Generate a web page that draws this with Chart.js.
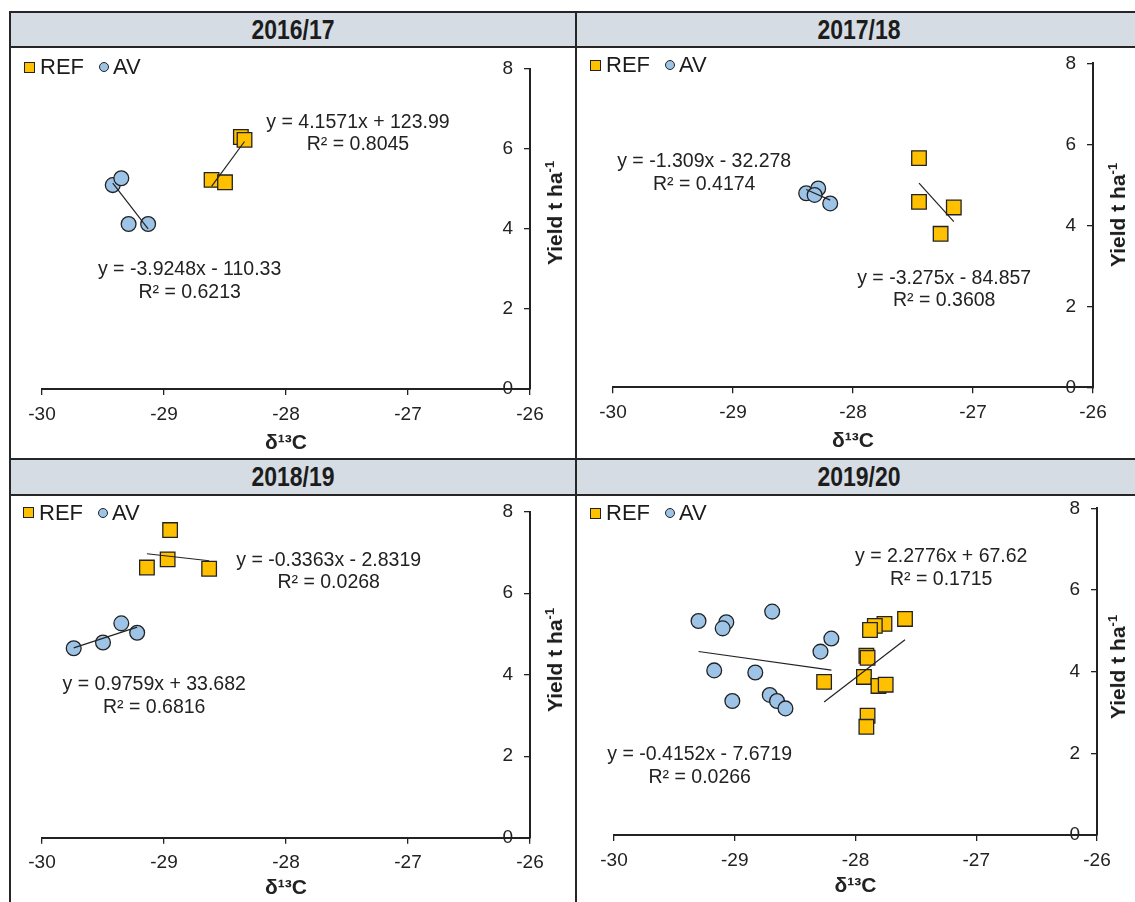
<!DOCTYPE html>
<html>
<head>
<meta charset="utf-8">
<script src="https://cdn.jsdelivr.net/npm/chart.js@4.4.1/dist/chart.umd.min.js"></script>
<style>
  html, body { margin: 0; padding: 0; background: #fff; }
  body { width: 1135px; height: 902px; position: relative; overflow: hidden;
         font-family: "Liberation Sans", Arial, sans-serif; color: #1c1c1c; }
  .ln { position: absolute; background: #262626; }
  .hdr { position: absolute; background: #d6dce4; font-weight: bold; font-size: 23px;
         text-align: center; display: flex; align-items: center; justify-content: center; }
  .hdr span { display: inline-block; transform: scaleY(1.2); }
  canvas { position: absolute; }
  .ytitle { position: absolute; font-weight: bold; font-size: 21px; white-space: nowrap;
            transform: translate(-50%, -50%) rotate(-90deg); }
  .ytitle sup { font-size: 13px; vertical-align: 0; position: relative; top: -8px; }
  .legend { position: absolute; font-size: 22px; display: flex; align-items: center;
            transform: translateY(-50%); white-space: nowrap; }
  .sq { width: 9px; height: 9px; border: 1.3px solid #222; background: #ffc000; margin-right: 5px; }
  .ci { width: 8px; height: 8px; border: 1.3px solid #222; background: #9dc3e6; border-radius: 50%; margin: 0 4px 0 15px; }
</style>
</head>
<body>
<script>
const seasons = ['2016/17', '2017/18', '2018/19', '2019/20'];
const xTickValues = [-30, -29, -28, -27, -26];
const yTickValues = [0, 2, 4, 6, 8];

// [δ13C, yield] pairs
const ref1617 = [[-28.61, 5.22], [-28.50, 5.16], [-28.37, 6.29], [-28.34, 6.22]];
const av1617 = [[-29.42, 5.09], [-29.35, 5.26], [-29.29, 4.12], [-29.13, 4.12]];
const ref1718 = [[-27.45, 5.66], [-27.45, 4.58], [-27.16, 4.44], [-27.27, 3.79]];
const av1718 = [[-28.39, 4.79], [-28.29, 4.91], [-28.32, 4.75], [-28.19, 4.54]];
const ref1819 = [[-28.95, 7.55], [-28.97, 6.83], [-29.14, 6.63], [-28.63, 6.60]];
const av1819 = [[-29.74, 4.65], [-29.50, 4.79], [-29.35, 5.26], [-29.22, 5.03]];
const ref1920 = [[-27.59, 5.29], [-27.76, 5.17], [-27.84, 5.12], [-27.88, 5.02], [-27.91, 4.39], [-27.90, 4.34],
                 [-27.93, 3.87], [-27.81, 3.65], [-27.75, 3.68], [-28.26, 3.75], [-27.90, 2.92], [-27.91, 2.65]];
const av1920 = [[-29.30, 5.24], [-29.07, 5.21], [-29.10, 5.06], [-28.69, 5.47], [-28.20, 4.81], [-28.29, 4.49],
                [-29.17, 4.03], [-28.83, 3.98], [-29.02, 3.28], [-28.71, 3.43], [-28.65, 3.28], [-28.58, 3.10]];

// linear trend lines as printed on the chart
const refSlope = [4.1571, -3.275, -0.3363, 2.2776];
const refIntercept = [123.99, -84.857, -2.8319, 67.62];
const refR2 = ['0.8045', '0.3608', '0.0268', '0.1715'];
const avSlope = [-3.9248, -1.309, 0.9759, -0.4152];
const avIntercept = [-110.33, -32.278, 33.682, -7.6719];
const avR2 = ['0.6213', '0.4174', '0.6816', '0.0266'];

const refSets = [ref1617, ref1718, ref1819, ref1920];
const avSets = [av1617, av1718, av1819, av1920];

// page layout (pixels) and label anchors (data units)
const panels = [
  { canvas: [11, 48, 564, 410], area: [42, 530, 68.5, 389], xTitleY: 443, yTitle: [555, 213], legend: [24, 67],
    header: [11, 13, 564, 33], eqRef: [-27.41, 6.66], eqAv: [-28.79, 2.97] },
  { canvas: [578, 48, 557, 410], area: [613, 1093, 63.3, 387.3], xTitleY: 441.7, yTitle: [1118, 215], legend: [590, 65],
    header: [577, 13, 564, 33], eqRef: [-27.24, 2.69], eqAv: [-29.24, 5.57] },
  { canvas: [11, 496, 564, 406], area: [42, 530, 511.7, 837.7], xTitleY: 888, yTitle: [555, 660], legend: [23, 512.5],
    header: [11, 460, 564, 34], eqRef: [-27.65, 6.81], eqAv: [-29.08, 3.75] },
  { canvas: [578, 496, 557, 406], area: [614, 1097, 508.3, 835], xTitleY: 886.7, yTitle: [1118, 667], legend: [590, 513],
    header: [577, 460, 564, 34], eqRef: [-27.29, 6.82], eqAv: [-29.29, 1.96] }
];

const FONT = '"Liberation Sans", Arial, sans-serif';
const INK = '#222';

function addDiv(cls, l, t, w, h, html) {
  const d = document.createElement('div');
  d.className = cls;
  d.style.left = l + 'px'; d.style.top = t + 'px';
  if (w != null) d.style.width = w + 'px';
  if (h != null) d.style.height = h + 'px';
  if (html) d.innerHTML = html;
  document.body.appendChild(d);
  return d;
}

// frame
panels.forEach((p, i) => addDiv('hdr', p.header[0], p.header[1], p.header[2], p.header[3], '<span>' + seasons[i] + '</span>'));
addDiv('ln', 9, 11, 1135, 2);
addDiv('ln', 9, 11, 2, 900);
addDiv('ln', 575, 11, 2, 900);
addDiv('ln', 9, 46, 1135, 2);
addDiv('ln', 9, 458, 1135, 2);
addDiv('ln', 9, 494, 1135, 2);

function eqLine(s, c) {
  return 'y = ' + s + 'x ' + (c < 0 ? '- ' : '+ ') + Math.abs(c);
}

function trend(pts, s, c) {
  const xs = pts.map(p => p[0]);
  const lo = Math.min(...xs), hi = Math.max(...xs);
  return [{ x: lo, y: s * lo + c }, { x: hi, y: s * hi + c }];
}

const eqPlugin = {
  id: 'eqText',
  afterDatasetsDraw(chart, args, opts) {
    const { ctx } = chart;
    const xs = chart.scales.x, ys = chart.scales.y;
    ctx.save();
    ctx.font = '19.5px ' + FONT;
    ctx.fillStyle = INK;
    ctx.textAlign = 'center';
    ctx.textBaseline = 'middle';
    opts.items.forEach(it => {
      const px = xs.getPixelForValue(it.at[0]);
      const py = ys.getPixelForValue(it.at[1]);
      ctx.fillText(it.lines[0], px, py);
      ctx.fillText(it.lines[1], px, py + 22.7);
    });
    ctx.restore();
  }
};

panels.forEach((p, i) => {
  const [cx, cy, cw, ch] = p.canvas;
  const [l, r, t, b] = p.area;
  const xAxisH = p.xTitleY + 12.6 - b;

  const cv = document.createElement('canvas');
  cv.width = cw; cv.height = ch;
  cv.style.left = cx + 'px'; cv.style.top = cy + 'px';
  cv.style.width = cw + 'px'; cv.style.height = ch + 'px';
  document.body.appendChild(cv);

  addDiv('ytitle', p.yTitle[0], p.yTitle[1], null, null, 'Yield t ha<sup>-1</sup>');
  addDiv('legend', p.legend[0], p.legend[1], null, null,
    '<span class="sq"></span>REF<span class="ci"></span>AV');

  const refPts = refSets[i], avPts = avSets[i];

  new Chart(cv, {
    type: 'scatter',
    data: {
      datasets: [
        { label: 'REF trend', data: trend(refPts, refSlope[i], refIntercept[i]), showLine: true,
          borderColor: INK, borderWidth: 1.2, pointRadius: 0, order: 0 },
        { label: 'AV trend', data: trend(avPts, avSlope[i], avIntercept[i]), showLine: true,
          borderColor: INK, borderWidth: 1.2, pointRadius: 0, order: 0 },
        { label: 'REF', data: refPts.map(q => ({ x: q[0], y: q[1] })), pointStyle: 'rect',
          pointRadius: 10.3, backgroundColor: '#ffc000', borderColor: INK, borderWidth: 1.3, order: 1 },
        { label: 'AV', data: avPts.map(q => ({ x: q[0], y: q[1] })), pointStyle: 'circle',
          pointRadius: 7.4, backgroundColor: '#9dc3e6', borderColor: INK, borderWidth: 1.3, order: 2 }
      ]
    },
    options: {
      responsive: false,
      animation: false,
      devicePixelRatio: 1,
      layout: { padding: { left: l - cx, top: t - cy, right: cx + cw - r, bottom: cy + ch - p.xTitleY - 12.6 } },
      plugins: {
        legend: { display: false },
        tooltip: { enabled: false },
        eqText: { items: [
          { at: p.eqRef, lines: [eqLine(refSlope[i], refIntercept[i]), 'R² = ' + refR2[i]] },
          { at: p.eqAv, lines: [eqLine(avSlope[i], avIntercept[i]), 'R² = ' + avR2[i]] }
        ] }
      },
      scales: {
        x: {
          type: 'linear', position: 'bottom',
          min: xTickValues[0], max: xTickValues[xTickValues.length - 1],
          afterBuildTicks: s => { s.ticks = xTickValues.map(v => ({ value: v })); },
          afterFit: s => { s.height = xAxisH; s.paddingLeft = 0; s.paddingRight = 0; },
          grid: { drawOnChartArea: false, drawTicks: true, tickLength: 6, color: INK, lineWidth: 1.3 },
          border: { display: true, color: INK, width: 2 },
          ticks: { font: { size: 19, family: FONT }, color: INK, padding: 8, maxRotation: 0 },
          title: { display: true, text: 'δ¹³C', font: { size: 21, weight: 'bold', family: FONT }, color: INK, padding: 0 }
        },
        y: {
          type: 'linear', position: 'right',
          min: yTickValues[0], max: yTickValues[yTickValues.length - 1],
          afterBuildTicks: s => { s.ticks = yTickValues.map(v => ({ value: v })); },
          afterFit: s => { s.width = 0; s.paddingTop = 0; s.paddingBottom = 0; },
          grid: { drawOnChartArea: false, drawTicks: true, tickLength: -6, color: INK, lineWidth: 1.3 },
          border: { display: true, color: INK, width: 2 },
          ticks: { font: { size: 19, family: FONT }, color: INK, mirror: true, padding: -17 }
        }
      }
    },
    plugins: [eqPlugin]
  });
});
</script>
</body>
</html>
